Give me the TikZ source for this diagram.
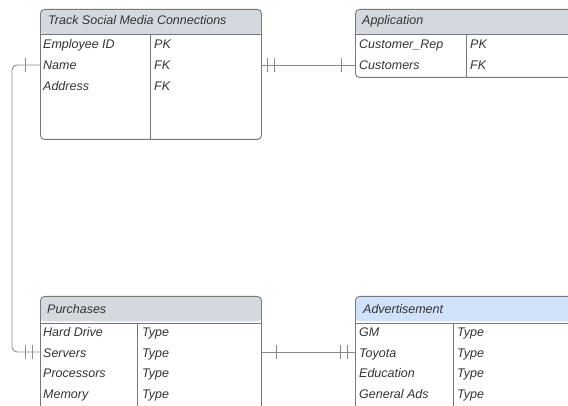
\documentclass[tikz,border=0pt]{standalone}
\usepackage{fontspec}
\setmainfont{Liberation Sans}
\definecolor{hdrgray}{HTML}{D4D9E0}
\definecolor{hdrblue}{HTML}{CFE2F9}
\definecolor{edgecol}{HTML}{777777}
\definecolor{conncol}{HTML}{8A8A8A}
\definecolor{txtcol}{HTML}{333333}
\begin{document}
\begin{tikzpicture}[x=1pt,y=-1pt,
  tbl/.style={draw=edgecol, line width=0.9pt, rounded corners=4pt, anchor=north west, inner sep=0pt, fill=white},
  hdrfill/.style={path picture={\fill[#1] (path picture bounding box.north west) rectangle ([yshift=-25pt]path picture bounding box.north east);}},
  sep/.style={draw=edgecol, line width=0.9pt},
  cell/.style={anchor=base west, inner sep=0pt, text=txtcol, font=\fontsize{12.5}{14}\selectfont\itshape},
  conn/.style={draw=conncol, line width=0.9pt},
  bar/.style={draw=conncol, line width=0.9pt}]
\useasboundingbox (0,0) rectangle (568,406);
\clip (0,0) rectangle (568,406);

% ---------- Track Social Media Connections ----------
\node[tbl, hdrfill=hdrgray, minimum width=221pt, minimum height=130pt] (t1) at (40,9) {};
\draw[sep] ([yshift=-25pt]t1.north west) -- ([yshift=-25pt]t1.north east);
\draw[sep] (150,34) -- (t1.south -| 150,0);
\node[cell] (t1h) at (48,25) {Track Social Media Connections};
\node[cell] (t1a1) at (43,49) {Employee ID};
\node[cell] (t1b1) at (154,49) {PK};
\node[cell] (t1a2) at (43,70) {Name};
\node[cell] (t1b2) at (154,70) {FK};
\node[cell] (t1a3) at (43,91) {Address};
\node[cell] (t1b3) at (154,91) {FK};

% ---------- Application ----------
\node[tbl, hdrfill=hdrgray, minimum width=260pt, minimum height=68pt] (t2) at (355,9) {};
\draw[sep] ([yshift=-25pt]t2.north west) -- ([yshift=-25pt]t2.north east);
\draw[sep] (466,34) -- (t2.south -| 466,0);
\node[cell] (t2h) at (362,25) {Application};
\node[cell] (t2a1) at (359,49) {Customer\_Rep};
\node[cell] (t2b1) at (470,49) {PK};
\node[cell] (t2a2) at (359,70) {Customers};
\node[cell] (t2b2) at (470,70) {FK};

% ---------- Purchases ----------
\node[tbl, hdrfill=hdrgray, minimum width=221pt, minimum height=130pt] (t3) at (40,296) {};
\draw[sep] ([yshift=-27pt]t3.north west) -- ([yshift=-27pt]t3.north east);
\draw[sep] (137,323) -- (137,430);
\node[cell] (t3h) at (47,313) {Purchases};
\node[cell] (t3a1) at (43,336.5) {Hard Drive};
\node[cell] (t3b1) at (142,336.5) {Type};
\node[cell] (t3a2) at (43,357) {Servers};
\node[cell] (t3b2) at (142,357) {Type};
\node[cell] (t3a3) at (43,377.5) {Processors};
\node[cell] (t3b3) at (142,377.5) {Type};
\node[cell] (t3a4) at (43,398.5) {Memory};
\node[cell] (t3b4) at (142,398.5) {Type};

% ---------- Advertisement ----------
\node[tbl, hdrfill=hdrblue, minimum width=260pt, minimum height=130pt] (t4) at (355,296) {};
\draw[sep] ([yshift=-27pt]t4.north west) -- ([yshift=-27pt]t4.north east);
\draw[sep] (453,323) -- (453,430);
\node[cell] (t4h) at (363,313) {Advertisement};
\node[cell] (t4a1) at (359,336.5) {GM};
\node[cell] (t4b1) at (457,336.5) {Type};
\node[cell] (t4a2) at (359,357) {Toyota};
\node[cell] (t4b2) at (457,357) {Type};
\node[cell] (t4a3) at (359,377.5) {Education};
\node[cell] (t4b3) at (457,377.5) {Type};
\node[cell] (t4a4) at (359,398.5) {General Ads};
\node[cell] (t4b4) at (457,398.5) {Type};

% ---------- ports ----------
\coordinate (p1L) at (t1.west |- 0,65);
\coordinate (p1R) at (t1.east |- 0,65);
\coordinate (p2L) at (t2.west |- 0,65);
\coordinate (p3L) at (t3.west |- 0,352);
\coordinate (p3R) at (t3.east |- 0,352);
\coordinate (p4L) at (t4.west |- 0,352);
\coordinate (bus) at (12,0);

% ---------- connectors ----------
\draw[conn, rounded corners=5pt] (p1L) -- (p1L -| bus) -- (p3L -| bus) -- (p3L);
\draw[conn] (p1R) -- (p2L);
\draw[conn] (p3R) -- (p4L);

% bars
\draw[bar] ([xshift=-15pt]p1L) ++(0,-7) -- ++(0,14);
\draw[bar] ([xshift=-15pt]p3L) ++(0,-7) -- ++(0,14);
\draw[bar] ([xshift=-8pt]p3L) ++(0,-7) -- ++(0,14);
\draw[bar] ([xshift=6pt]p1R) ++(0,-7) -- ++(0,14);
\draw[bar] ([xshift=13pt]p1R) ++(0,-7) -- ++(0,14);
\draw[bar] ([xshift=-14pt]p2L) ++(0,-7) -- ++(0,14);
\draw[bar] ([xshift=15pt]p3R) ++(0,-7) -- ++(0,14);
\draw[bar] ([xshift=-15pt]p4L) ++(0,-7) -- ++(0,14);
\draw[bar] ([xshift=-8pt]p4L) ++(0,-7) -- ++(0,14);
\end{tikzpicture}
\end{document}
